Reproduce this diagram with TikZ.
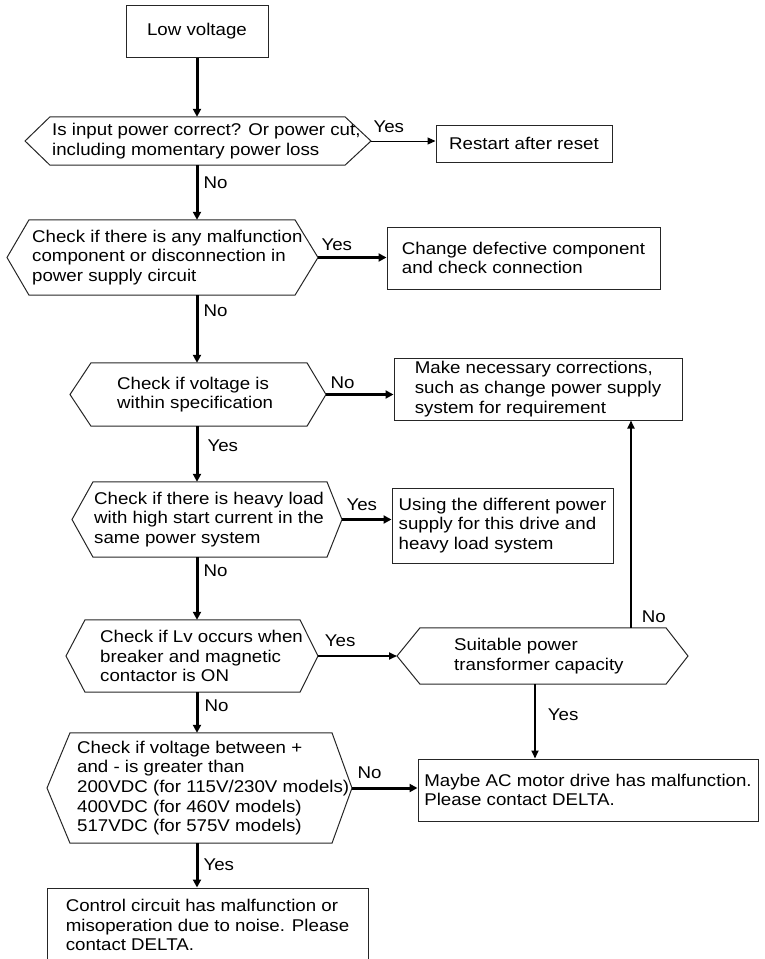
\documentclass[tikz,border=0pt]{standalone}
\usepackage{fontspec}
\setmainfont{Liberation Sans}[FakeStretch=1.1]
\usetikzlibrary{arrows.meta,positioning,calc}

\tikzset{
  box/.style={draw=black!85, line width=1pt, rectangle, inner sep=0pt, align=left},
  hexbody/.style={anchor=west, inner sep=0pt, align=left},
  outline/.style={draw=black!85, line width=1pt},
  flow/.style={line width=3pt, -{Triangle[length=8pt,width=8pt]}},
  midflow/.style={line width=1.8pt, -{Triangle[length=8pt,width=7pt]}},
  thinflow/.style={line width=1pt, -{Triangle[length=8pt,width=7pt]}},
  lab/.style={inner sep=0pt, text height=12pt, text depth=0pt}
}
% hexagon round a text node: name, left tip, left corner, right corner, right tip
\newcommand{\hexa}[5]{%
  \draw[outline] (#3,0 |- #1.north) -- (#4,0 |- #1.north) -- (#5,0 |- #1.center)
    -- (#4,0 |- #1.south) -- (#3,0 |- #1.south) -- (#2,0 |- #1.center) -- cycle;
  \coordinate (#1-w) at (#2,0 |- #1.center);
  \coordinate (#1-e) at (#5,0 |- #1.center);}

\begin{document}
\begin{tikzpicture}[x=1pt, y=-1pt, font=\fontsize{17}{19.6}\selectfont]
  \useasboundingbox (0,0) rectangle (764,959);
  \clip (0,0) rectangle (764,959);

  % boxes
  \node[box, minimum width=142pt, minimum height=52pt] (low) at (197,31) {Low voltage};
  \node[box, minimum width=176pt, minimum height=37pt] (restart) at (524,143.5) {Restart after reset};
  \node[box, minimum width=273pt, minimum height=62pt] (change) at (523.5,258) {Change defective component\\and check connection};
  \node[box, minimum width=288pt, minimum height=62pt] (make) at (538,389) {Make necessary corrections,\\such as change power supply\\system for requirement};
  \node[box, minimum width=221pt, minimum height=75pt] (using) at (502.5,525.5) {Using the different power\\supply for this drive and\\heavy load system};
  \node[box, minimum width=340pt, minimum height=62pt] (maybe) at (588,790) {Maybe AC motor drive has malfunction.\\Please contact DELTA.};
  \node[box, minimum width=321pt, minimum height=74pt] (final) at (207.5,925) {Control circuit has malfunction or\\misoperation due to noise. Please\\contact DELTA.};

  % decisions
  \node[hexbody, minimum height=48pt] (h1) at (52,141) {Is input power correct? Or power cut,\\including momentary power loss};
  \hexa{h1}{25}{50}{345}{371}
  \node[hexbody, minimum height=75pt] (h2) at (32,257.5) {Check if there is any malfunction\\component or disconnection in\\power supply circuit};
  \hexa{h2}{7}{29}{295}{318}
  \node[hexbody, minimum height=63pt] (h3) at (117,394.5) {Check if voltage is\\within specification};
  \hexa{h3}{70}{91}{307}{326}
  \node[hexbody, minimum height=75pt] (h4) at (94,519.5) {Check if there is heavy load\\with high start current in the\\same power system};
  \hexa{h4}{72}{93}{327}{342}
  \node[hexbody, minimum height=72pt] (h5) at (100,656) {Check if Lv occurs when\\breaker and magnetic\\contactor is ON};
  \hexa{h5}{66}{85}{300}{318}
  \node[hexbody, minimum height=56pt] (suit) at (454,656) {Suitable power\\transformer capacity};
  \hexa{suit}{397}{420}{666}{688}
  \node[hexbody, minimum height=110pt] (h6) at (77,788) {Check if voltage between +\\and - is greater than\\200VDC (for 115V/230V models)\\400VDC (for 460V models)\\517VDC (for 575V models)};
  \hexa{h6}{47}{70}{332}{352}

  % main line
  \draw[flow] (low) -- (low |- h1.north);
  \draw[flow] (h1.south -| low) node[lab, anchor=north west, xshift=5pt, yshift=-10pt] {No} -- (h2.north -| low);
  \draw[flow] (h2.south -| low) node[lab, anchor=north west, xshift=5pt, yshift=-8pt] {No} -- (h3.north -| low);
  \draw[flow] (h3.south -| low) node[lab, anchor=north west, xshift=9pt, yshift=-12pt] {Yes} -- (h4.north -| low);
  \draw[flow] (h4.south -| low) node[lab, anchor=north west, xshift=5pt, yshift=-6pt] {No} -- (h5.north -| low);
  \draw[flow] (h5.south -| low) node[lab, anchor=north west, xshift=6pt, yshift=-6pt] {No} -- (h6.north -| low);
  \draw[flow] (h6.south -| low) node[lab, anchor=north west, xshift=5pt, yshift=-14pt] {Yes} -- (final.north -| low);

  % branches
  \draw[thinflow] (h1-e) node[lab, anchor=south west, xshift=2pt, yshift=8pt] {Yes} -- (h1-e -| restart.west);
  \draw[flow] (h2-e) node[lab, anchor=south west, xshift=2pt, yshift=6pt] {Yes} -- (h2-e -| change.west);
  \draw[flow] (h3-e) node[lab, anchor=south west, xshift=3pt, yshift=5pt] {No} -- (h3-e -| make.west);
  \draw[flow] (h4-e) node[lab, anchor=south west, xshift=3pt, yshift=8pt] {Yes} -- (h4-e -| using.west);
  \draw[midflow] (h5-e) node[lab, anchor=south west, xshift=6pt, yshift=9pt] {Yes} -- (suit-w);
  \draw[flow] (h6-e) node[lab, anchor=south west, xshift=4pt, yshift=8pt] {No} -- (h6-e -| maybe.west);
  \draw[midflow] (631,0 |- suit.north) node[lab, anchor=south west, xshift=10pt, yshift=4pt] {No} -- (631,0 |- make.south);
  \draw[midflow] (535,0 |- suit.south) node[lab, anchor=north west, xshift=12pt, yshift=-23pt] {Yes} -- (535,0 |- maybe.north);
\end{tikzpicture}
\end{document}
